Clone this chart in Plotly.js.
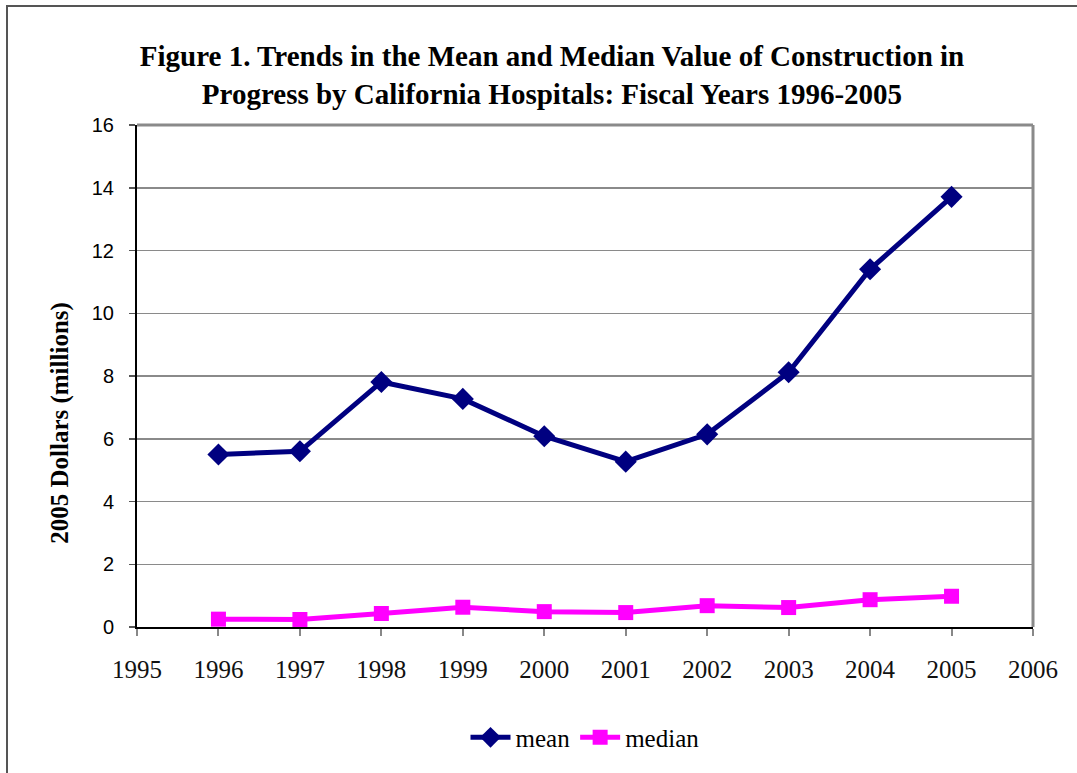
<!DOCTYPE html>
<html>
<head>
<meta charset="utf-8">
<script src="https://cdn.plot.ly/plotly-3.0.1.min.js"></script>
<style>
  html, body { margin: 0; padding: 0; background: #fff; }
  #chart { width: 1077px; height: 773px; position: relative; }
  #frame { position: absolute; left: 6px; top: 5px; width: 1200px; height: 900px;
           border-top: 2px solid #555; border-left: 2px solid #555; pointer-events: none; }
</style>
</head>
<body>
<div id="chart"></div>
<div id="frame"></div>
<script>
const years = [1996, 1997, 1998, 1999, 2000, 2001, 2002, 2003, 2004, 2005];
const meanValues = [5.50, 5.60, 7.81, 7.27, 6.08, 5.27, 6.14, 8.12, 11.40, 13.71];
const medianValues = [0.25, 0.24, 0.43, 0.63, 0.49, 0.46, 0.68, 0.62, 0.87, 0.98];
const xTicks = [1995, 1996, 1997, 1998, 1999, 2000, 2001, 2002, 2003, 2004, 2005, 2006];
const yTicks = [0, 2, 4, 6, 8, 10, 12, 14, 16];

const traces = [
  { x: years, y: meanValues, name: 'mean', type: 'scatter', mode: 'lines+markers',
    line: { color: '#000080', width: 5 },
    marker: { symbol: 'diamond', size: 17, color: '#000080' } },
  { x: years, y: medianValues, name: 'median', type: 'scatter', mode: 'lines+markers',
    line: { color: '#FF00FF', width: 5 },
    marker: { symbol: 'square', size: 15, color: '#FF00FF' } }
];

const layout = {
  width: 1077, height: 773,
  margin: { l: 137, r: 44, t: 125, b: 144 },
  paper_bgcolor: '#fff', plot_bgcolor: '#fff',
  showlegend: true,
  title: {
    text: 'Figure 1. Trends in the Mean and Median Value of Construction in<br>Progress by California Hospitals: Fiscal Years 1996-2005',
    font: { family: 'Liberation Serif, serif', size: 29, color: '#000', weight: 'bold' },
    x: 552 / 1077, xref: 'container', xanchor: 'center',
    y: 1 - 66 / 773, yref: 'container', yanchor: 'middle'
  },
  xaxis: {
    range: [1995, 2006], tickvals: xTicks, ticktext: xTicks.map(String),
    showgrid: false, zeroline: false,
    showline: true, linecolor: '#000', linewidth: 2,
    ticks: 'outside', ticklen: 7, tickcolor: '#888', tickwidth: 2,
    ticklabelstandoff: 12,
    tickfont: { family: 'Liberation Serif, serif', size: 25, color: '#111' },
    fixedrange: true
  },
  yaxis: {
    range: [0, 16], tickvals: yTicks, ticktext: yTicks.map(String),
    showgrid: true, gridcolor: '#8a8a8a', gridwidth: 1.5, zeroline: false,
    showline: true, linecolor: '#000', linewidth: 2,
    ticks: 'outside', ticklen: 6, tickcolor: '#555', tickwidth: 1.5,
    ticklabelstandoff: 11,
    tickfont: { family: 'Liberation Sans, Arial, sans-serif', size: 20, color: '#000' },
    fixedrange: true
  },
  shapes: [
    { type: 'line', xref: 'paper', yref: 'paper', x0: 0, x1: 1, y0: 1, y1: 1,
      line: { color: '#8a8a8a', width: 3 } },
    { type: 'line', xref: 'paper', yref: 'paper', x0: 1, x1: 1, y0: 0, y1: 1,
      line: { color: '#8a8a8a', width: 3 } }
  ],
  annotations: [
    { text: '2005 Dollars (millions)', xref: 'paper', yref: 'paper',
      x: (60 - 137) / 896, y: (629 - 424) / 504, xanchor: 'center', yanchor: 'middle',
      textangle: -90, showarrow: false,
      font: { family: 'Liberation Serif, serif', size: 25, color: '#000', weight: 'bold' } }
  ],
  legend: {
    orientation: 'h', x: 0.5, xanchor: 'center', y: (629 - 740) / 504, yanchor: 'middle',
    font: { family: 'Liberation Serif, serif', size: 25, color: '#000' },
    itemwidth: 40, tracegroupgap: 0
  }
};

Plotly.newPlot('chart', traces, layout, { displayModeBar: false, staticPlot: true });
</script>
</body>
</html>
